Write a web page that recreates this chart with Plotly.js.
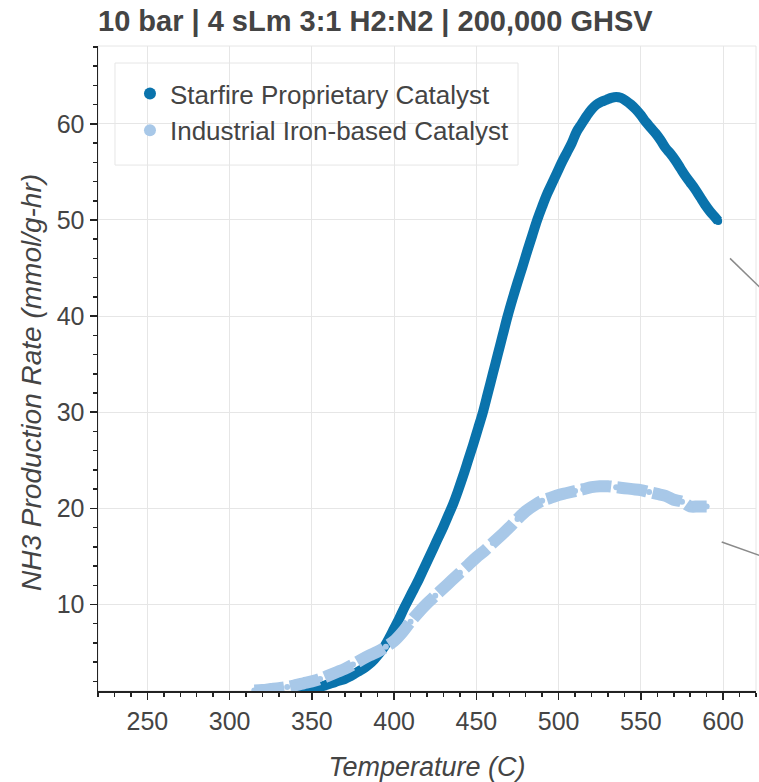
<!DOCTYPE html>
<html>
<head>
<meta charset="utf-8">
<script src="https://cdn.plot.ly/plotly-3.0.1.min.js"></script>
<style>
html,body{margin:0;padding:0;background:#fff;overflow:hidden;}
#chart{width:759px;height:782px;}
</style>
</head>
<body>
<div id="chart"></div>
<script>
// ---- data ----
var seriesNames = ["Starfire Proprietary Catalyst", "Industrial Iron-based Catalyst"];

var starfireTemp = [343,346,349,352,355,358,361,364,367,370,373,376,379,382,385,388,391,394,397,400,
  403,406,409,412,415,418,421,424,427,430,433,436,439,442,445,448,451,454,457,460,463,466,469,472,475,
  478,481,484,487,490,493,496,499,502,505,508,511,514,517,520,523,526,529,532,535,538,541,544,547,550,
  553,556,559,562,565,568,571,574,577,580,583,586,589,592,595,597];
var starfireRate = [1.0,1.07,1.15,1.3,1.42,1.58,1.75,1.92,2.1,2.25,2.5,2.8,3.1,3.4,3.8,4.3,4.9,5.6,6.5,7.5,
  8.5,9.6,10.6,11.6,12.6,13.7,14.8,15.9,17.0,18.1,19.3,20.5,21.9,23.4,25.0,26.6,28.3,30.0,32.0,34.0,36.0,38.0,40.0,41.8,43.5,
  45.1,46.8,48.4,50.0,51.4,52.7,53.8,54.9,56.0,57.0,58.0,59.2,60.0,60.8,61.5,62.0,62.3,62.5,62.7,62.8,62.7,62.4,62.0,61.5,60.9,
  60.2,59.6,59.0,58.3,57.5,56.9,56.2,55.4,54.6,53.9,53.2,52.4,51.6,50.9,50.3,49.9];

var ironTemp = [315,320,325,330,335,340,345,350,355,360,365,370,375,380,385,390,395,400,405,410,
  415,420,425,430,435,440,445,450,455,460,465,470,475,480,485,490,495,500,505,510,515,520,525,530,
  535,540,545,550,555,560,565,570,575,580,585,590];
var ironRate = [1.05,1.1,1.2,1.3,1.42,1.6,1.8,2.0,2.25,2.6,2.95,3.3,3.75,4.25,4.7,5.1,5.6,6.2,7.1,8.2,
  9.2,10.1,10.9,11.7,12.5,13.3,14.1,14.9,15.6,16.4,17.2,18.0,18.9,19.7,20.3,20.8,21.1,21.4,21.6,21.8,22.0,22.2,22.3,22.3,
  22.2,22.1,22.0,21.9,21.7,21.5,21.3,20.9,20.7,20.2,20.2,20.2];

var xTickVals = [250,300,350,400,450,500,550,600];
var yTickVals = [10,20,30,40,50,60];

var titleText = "10 bar | 4 sLm 3:1 H2:N2 | 200,000 GHSV";
var xTitle = "Temperature (C)";
var yTitle = "NH3 Production Rate (mmol/g-hr)";

// ---- styling ----
var darkBlue = "#0a73ac";
var lightBlue = "#a8c8e8";
var textCol = "#444444";
var font = "Liberation Sans, Arial, Helvetica, sans-serif";

var traces = [
  {x: starfireTemp, y: starfireRate, mode: "lines", type: "scatter", showlegend: false, hoverinfo: "skip",
   line: {color: darkBlue, width: 10, shape: "spline"}},
  {x: starfireTemp, y: starfireRate, mode: "markers", type: "scatter", name: seriesNames[0],
   marker: {color: darkBlue, size: 8}},
  {x: ironTemp, y: ironRate, mode: "lines", type: "scatter", showlegend: false, hoverinfo: "skip",
   line: {color: lightBlue, width: 12, shape: "spline", dash: "30px,6px"}},
  {x: ironTemp, y: ironRate, mode: "markers", type: "scatter", name: seriesNames[1],
   marker: {color: lightBlue, size: 6}}
];

var axisCommon = {
  showline: true, linecolor: "#222", linewidth: 1.5,
  ticks: "outside", ticklen: 7, tickwidth: 1.5, tickcolor: "#222",
  showgrid: true, gridcolor: "#e6e6e6", gridwidth: 1,
  zeroline: false,
  tickfont: {family: font, size: 25, color: textCol}
};

var layout = {
  width: 759, height: 782,
  margin: {l: 98, r: 3, t: 46, b: 91},
  paper_bgcolor: "#fff", plot_bgcolor: "#fff",
  font: {family: font, color: textCol},
  title: {text: "<b>" + titleText + "</b>", x: 98/759, xanchor: "left", xref: "container",
          y: 0.986, yanchor: "top", yref: "container",
          font: {family: font, size: 29, color: textCol}},
  xaxis: Object.assign({}, axisCommon, {
    range: [220, 620], tickvals: xTickVals, ticktext: xTickVals.map(String),
    minor: {dtick: 10, tick0: 0, ticklen: 4, tickwidth: 1.5, tickcolor: "#222", ticks: "outside", showgrid: false},
    title: {text: "<i>" + xTitle + "</i>", font: {family: font, size: 27, color: textCol}, standoff: 24}
  }),
  yaxis: Object.assign({}, axisCommon, {
    range: [1, 68.1], tickvals: yTickVals, ticktext: yTickVals.map(String),
    minor: {dtick: 2, tick0: 0, ticklen: 4, tickwidth: 1.5, tickcolor: "#222", ticks: "outside", showgrid: false}
  }),
  annotations: [
    {text: "<i>" + yTitle + "</i>", xref: "paper", yref: "paper", x: -0.102, y: 0.479,
     xanchor: "center", yanchor: "middle", textangle: -90, showarrow: false,
     font: {family: font, size: 28, color: textCol}}
  ],
  legend: {x: 0.0486, y: 0.9628, xanchor: "left", yanchor: "top",
           bgcolor: "rgba(0,0,0,0)", borderwidth: 0,
           font: {family: font, size: 26, color: textCol}, itemsizing: "constant"},
  shapes: [
    {type: "rect", xref: "paper", yref: "paper", x0: 0, x1: 1, y0: 0, y1: 1,
     line: {color: "#e6e6e6", width: 1}, layer: "below"},
    {type: "rect", xref: "paper", yref: "paper", x0: 0.0258, x1: 0.6383, y0: 0.8154, y1: 0.9736,
     fillcolor: "#fff", line: {color: "#e6e6e6", width: 1}, layer: "between"},
    {type: "line", xref: "paper", yref: "paper", x0: 0.9605, y0: 0.6707, x1: 1.052, y1: 0.58,
     line: {color: "#8a8a8a", width: 1.5}},
    {type: "line", xref: "paper", yref: "paper", x0: 0.9479, y0: 0.2311, x1: 1.052, y1: 0.1933,
     line: {color: "#8a8a8a", width: 1.5}}
  ]
};

Plotly.newPlot("chart", traces, layout, {displayModeBar: false, staticPlot: true});
</script>
</body>
</html>
